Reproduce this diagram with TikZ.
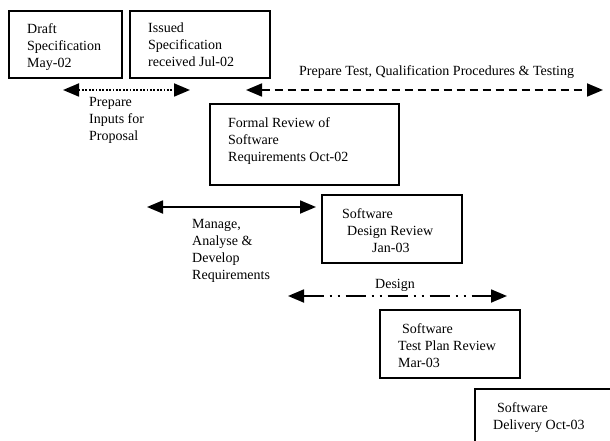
\documentclass[tikz,border=0pt]{standalone}
\usepackage{fontspec}
\setmainfont{Liberation Serif}
\usetikzlibrary{arrows.meta}

\begin{document}
\begin{tikzpicture}[x=1pt,y=-1pt,
  box/.style={draw=black, line width=1.6pt, inner sep=0pt, anchor=north west},
  txt/.style={inner sep=0pt, anchor=north west, align=left, font=\fontsize{14}{17}\selectfont},
  span/.style={line width=1.8pt, {Triangle[length=16pt,width=13pt]}-{Triangle[length=16pt,width=13pt]}}]
\useasboundingbox (0,0) rectangle (610,441);
% milestone boxes
\node[box, minimum width=113pt, minimum height=67pt] (draft) at (8,10) {};
\node[box, minimum width=140pt, minimum height=67pt] (issued) at (129,10) {};
\node[box, minimum width=189pt, minimum height=81pt] (srr) at (209,103) {};
\node[box, minimum width=140pt, minimum height=68pt] (sdr) at (321,194) {};
\node[box, minimum width=140pt, minimum height=68pt] (tpr) at (379,309) {};
\begin{scope}
\clip (0,0) rectangle (610,441);
\node[box, minimum width=170pt, minimum height=80pt] (deliv) at (474,388) {};
\end{scope}
% box texts
\node[txt] (drafttxt) at (27,23) {Draft\\Specification\\May-02};
\node[txt] (issuedtxt) at (148,23) {Issued\\Specification\\received Jul-02};
\node[txt] (srrtxt) at (228,117) {Formal Review of\\Software\\Requirements Oct-02};
\node[txt] (sdrtxt) at (342,208) {Software\\\hspace*{5pt}Design Review\\\hspace*{30pt}Jan-03};
\node[txt] (tprtxt) at (398,323) {\hspace*{4pt}Software\\Test Plan Review\\Mar-03};
\node[txt] (delivtxt) at (493,402) {\hspace*{4pt}Software\\Delivery Oct-03};
% activity spans
\coordinate (inA) at (63,90);
\coordinate (inB) at (190,90);
\coordinate (tstA) at (246,90);
\coordinate (tstB) at (603,90);
\coordinate (reqA) at (147,207);
\coordinate (reqB) at (316,207);
\coordinate (desA) at (288,296);
\coordinate (desB) at (507,296);
\draw[span, dash pattern=on 1.8pt off 1.6pt] (inA) -- (inB);
\draw[span, dash pattern=on 8pt off 5pt] (tstA) -- (tstB);
\draw[span] (reqA) -- (reqB);
\draw[span, dash pattern=on 20pt off 6pt on 2pt off 6pt on 2pt off 6pt] (desA) -- (desB);
% span labels
\node[txt] (inlbl) at (89,97) {Prepare\\Inputs for\\Proposal};
\node[txt] (tstlbl) at (299,65) {Prepare Test, Qualification Procedures \& Testing};
\node[txt] (reqlbl) at (192,219) {Manage,\\Analyse \&\\Develop\\Requirements};
\node[txt] (deslbl) at (375,279) {Design};
\end{tikzpicture}
\end{document}
